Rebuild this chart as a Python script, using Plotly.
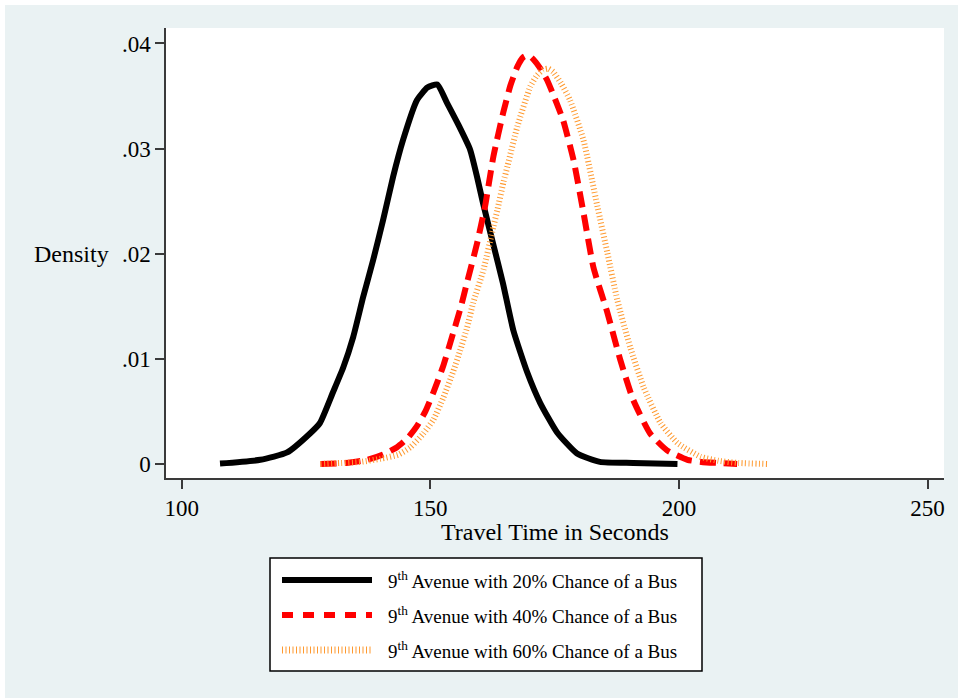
import plotly.graph_objects as go

# Kernel density estimates of travel time on 9th Avenue, by chance of a bus
travel_time_20 = [107.7, 115.8, 121.2, 125.8, 127.8, 130.4, 132.5, 134.5, 136.5, 138.5,
                  140.5, 142.5, 144.5, 147.3, 149.4, 151.4, 153.4, 155.6, 158.0, 159.4,
                  160.6, 162.6, 164.6, 166.7, 169.5, 172.1, 175.5, 179.5, 184.1, 190.8, 199.7]
density_20 = [0.00005, 0.0004, 0.0011, 0.0029, 0.0039, 0.0068, 0.0092, 0.0121, 0.0159, 0.0194,
              0.0232, 0.0273, 0.0308, 0.0346, 0.0358, 0.0361, 0.0343, 0.0323, 0.0299, 0.0273,
              0.0248, 0.0210, 0.0172, 0.0127, 0.0087, 0.0058, 0.0030, 0.0010, 0.0002, 0.0001, 0.0000]

travel_time_40 = [127.9, 133.0, 137.3, 140.5, 143.3, 145.5, 147.3, 149.0, 150.6, 152.5,
                  154.3, 156.0, 157.4, 159.4, 161.0, 162.7, 164.7, 166.1, 167.5, 168.7,
                  169.7, 170.7, 172.0, 173.5, 175.0, 176.7, 178.8, 180.8, 182.8, 185.6,
                  188.2, 190.8, 194.2, 197.6, 201.7, 204.5, 207.7, 211.7]
density_40 = [0.0000, 0.0001, 0.0004, 0.0009, 0.0016, 0.0025, 0.0036, 0.0050, 0.0068, 0.0092,
              0.0120, 0.0147, 0.0173, 0.0210, 0.0245, 0.0293, 0.0335, 0.0360, 0.0378, 0.0387,
              0.0389, 0.0385, 0.0377, 0.0365, 0.0348, 0.0327, 0.0289, 0.0239, 0.0187, 0.0144,
              0.0099, 0.0061, 0.0029, 0.0013, 0.0004, 0.0002, 0.0001, 0.0000]

travel_time_60 = [127.9, 132.0, 135.9, 140.0, 143.6, 146.0, 148.6, 150.6, 152.6, 154.6,
                  156.0, 157.4, 158.6, 160.7, 162.7, 163.5, 164.7, 165.5, 167.5, 170.1,
                  171.5, 172.7, 173.7, 174.7, 176.3, 178.1, 180.8, 183.6, 185.6, 187.6,
                  190.2, 192.9, 196.3, 199.7, 204.3, 208.0, 212.0, 218.0]
density_60 = [0.0000, 0.0001, 0.0002, 0.0005, 0.0009, 0.0016, 0.0029, 0.0042, 0.0063, 0.0088,
              0.0108, 0.0130, 0.0153, 0.0185, 0.0226, 0.0242, 0.0268, 0.0283, 0.0321, 0.0359,
              0.0370, 0.0375, 0.0376, 0.0373, 0.0362, 0.0346, 0.0308, 0.0245, 0.0201, 0.0156,
              0.0111, 0.0073, 0.0039, 0.0020, 0.0007, 0.0003, 0.0001, 0.0000]

series_labels = ["9<sup>th</sup> Avenue with 20% Chance of a Bus",
                 "9<sup>th</sup> Avenue with 40% Chance of a Bus",
                 "9<sup>th</sup> Avenue with 60% Chance of a Bus"]

x_ticks = [100, 150, 200, 250]
y_ticks = [0, 0.01, 0.02, 0.03, 0.04]
y_tick_text = ["0", ".01", ".02", ".03", ".04"]

FONT = "Liberation Serif"
BG = "#EAF2F3"
AXIS = "#3a3a3a"

W, H = 958, 698
L, R, T, B = 166, 14, 28, 220
PW, PH = W - L - R, H - T - B


def px_x(px):
    return (px - L) / PW


def px_y(py):
    return (H - B - py) / PH


styles = [
    dict(color="black", width=6, dash="solid"),
    dict(color="#FF0000", width=6, dash="16px,8px"),
    dict(color="#FF9A30", width=6, dash="1px,2.5px"),
]
legend_styles = [
    dict(color="black", width=6, dash="solid"),
    dict(color="#FF0000", width=6, dash="11px,10px"),
    dict(color="#FF9A30", width=7, dash="1px,2.5px"),
]

fig = go.Figure()
for xs, ys, st, name in zip([travel_time_20, travel_time_40, travel_time_60],
                            [density_20, density_40, density_60], styles, series_labels):
    fig.add_trace(go.Scatter(x=xs, y=ys, mode="lines", name=name, showlegend=False,
                             line=dict(shape="spline", smoothing=0.5, **st)))

shapes = [
    # white border strips along the top and left edges of the page
    dict(type="rect", xref="paper", yref="paper", x0=px_x(0), x1=px_x(W), y0=px_y(5), y1=px_y(0),
         fillcolor="white", line=dict(width=0), layer="below"),
    dict(type="rect", xref="paper", yref="paper", x0=px_x(0), x1=px_x(5), y0=px_y(H), y1=px_y(0),
         fillcolor="white", line=dict(width=0), layer="below"),
    # legend box
    dict(type="rect", xref="paper", yref="paper", x0=px_x(270), x1=px_x(702), y0=px_y(671), y1=px_y(558),
         fillcolor="white", line=dict(color="black", width=1.5)),
]
annotations = []
for i, (st, label) in enumerate(zip(legend_styles, series_labels)):
    yy = px_y(580 + 35 * i)
    shapes.append(dict(type="line", xref="paper", yref="paper", x0=px_x(282), x1=px_x(372),
                       y0=yy, y1=yy, line=st))
    annotations.append(dict(text=label, xref="paper", yref="paper", x=px_x(386), y=yy,
                            xanchor="left", yanchor="middle", showarrow=False,
                            font=dict(family=FONT, size=19, color="black")))

annotations.append(dict(text="Travel Time in Seconds", xref="paper", yref="paper",
                        x=0.5, y=px_y(532), xanchor="center", yanchor="middle", showarrow=False,
                        font=dict(family=FONT, size=24, color="black")))
annotations.append(dict(text="Density", xref="paper", yref="y", x=px_x(111), y=0.02,
                        xanchor="right", yanchor="middle", showarrow=False,
                        font=dict(family=FONT, size=24, color="black")))

fig.update_layout(
    width=W, height=H,
    margin=dict(l=L, r=R, t=T, b=B, pad=0),
    paper_bgcolor=BG, plot_bgcolor="white",
    font=dict(family=FONT, size=23, color="black"),
    shapes=shapes, annotations=annotations,
    xaxis=dict(range=[96.84, 253.3], tickvals=x_ticks, ticks="outside", ticklen=9, tickwidth=1.5,
               tickcolor=AXIS, showline=True, linecolor=AXIS, linewidth=1.5, showgrid=False,
               zeroline=False, tickfont=dict(family=FONT, size=23, color="black")),
    yaxis=dict(range=[-0.00133, 0.04147], tickvals=y_ticks, ticktext=y_tick_text, ticks="outside",
               ticklen=9, tickwidth=1.5, tickcolor=AXIS, showline=True, linecolor=AXIS,
               linewidth=1.5, showgrid=False, zeroline=False,
               tickfont=dict(family=FONT, size=23, color="black")),
)

fig.write_html("out.html")
